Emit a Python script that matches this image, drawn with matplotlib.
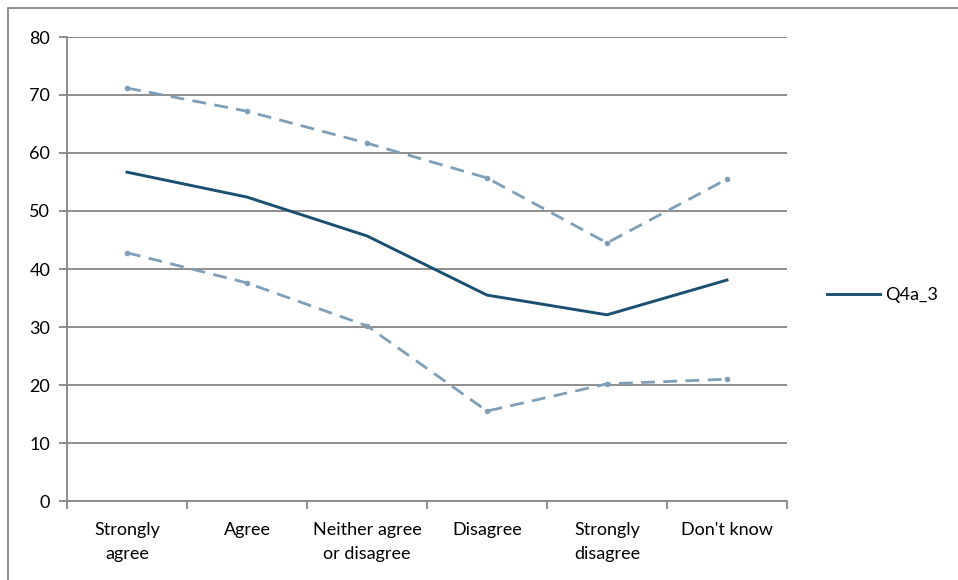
import numpy as np
import matplotlib.pyplot as plt
from matplotlib.patches import Rectangle

plt.rcParams['font.family'] = ['Lato', 'DejaVu Sans']

categories = ["Strongly\nagree", "Agree", "Neither agree\nor disagree",
              "Disagree", "Strongly\ndisagree", "Don't know"]
q4a_3 = [56.7, 52.4, 45.7, 35.5, 32.1, 38.1]
upper = [71.2, 67.2, 61.7, 55.7, 44.5, 55.5]
lower = [42.8, 37.6, 30.2, 15.5, 20.2, 21.0]

GRID = '#868686'
MAIN = '#1B4F72'
CI = '#7F9FB8'

fig = plt.figure(figsize=(9.58, 5.8), dpi=100)
ax = fig.add_axes([67 / 958, 1 - 501 / 580, 720 / 958, 464 / 580])

x = np.arange(len(categories))
ax.plot(x, upper, color=CI, lw=2, ls=(0, (5, 3)), marker='o', ms=3)
ax.plot(x, lower, color=CI, lw=2, ls=(0, (5, 3)), marker='o', ms=3)
ax.plot(x, q4a_3, color=MAIN, lw=2.1, label='Q4a_3')

ax.set_xlim(-0.5, len(categories) - 0.5)
ax.set_ylim(0, 80)
ax.set_yticks(np.arange(0, 81, 10))
ax.yaxis.grid(True, color=GRID, lw=1.3)
ax.set_axisbelow(True)

ax.set_xticks(np.arange(-0.5, len(categories), 1))
ax.set_xticklabels([])
ax.set_xticks(x, minor=True)
ax.set_xticklabels(categories, minor=True, linespacing=1.65)
ax.tick_params(axis='x', which='minor', length=0, pad=15)
ax.tick_params(axis='x', which='major', length=6, color=GRID, width=1.3)
ax.tick_params(axis='y', length=6, color=GRID, width=1.3, pad=6)
ax.tick_params(which='both', labelsize=13, labelcolor='black')

for s in ['top', 'right']:
    ax.spines[s].set_visible(False)
for s in ['left', 'bottom']:
    ax.spines[s].set_color(GRID)
    ax.spines[s].set_linewidth(1.3)

ax.legend(loc='center left', bbox_to_anchor=(811 / 958, 1 - 295 / 580),
          bbox_transform=fig.transFigure, frameon=False, fontsize=13,
          handlelength=2.9, handletextpad=0.3)

fig.patches.append(Rectangle((8 / 958, -0.1), 1.2, 1.1 - 8 / 580,
                             transform=fig.transFigure, fill=False,
                             edgecolor=GRID, lw=1.3))

fig.savefig('out.png', dpi=100)
